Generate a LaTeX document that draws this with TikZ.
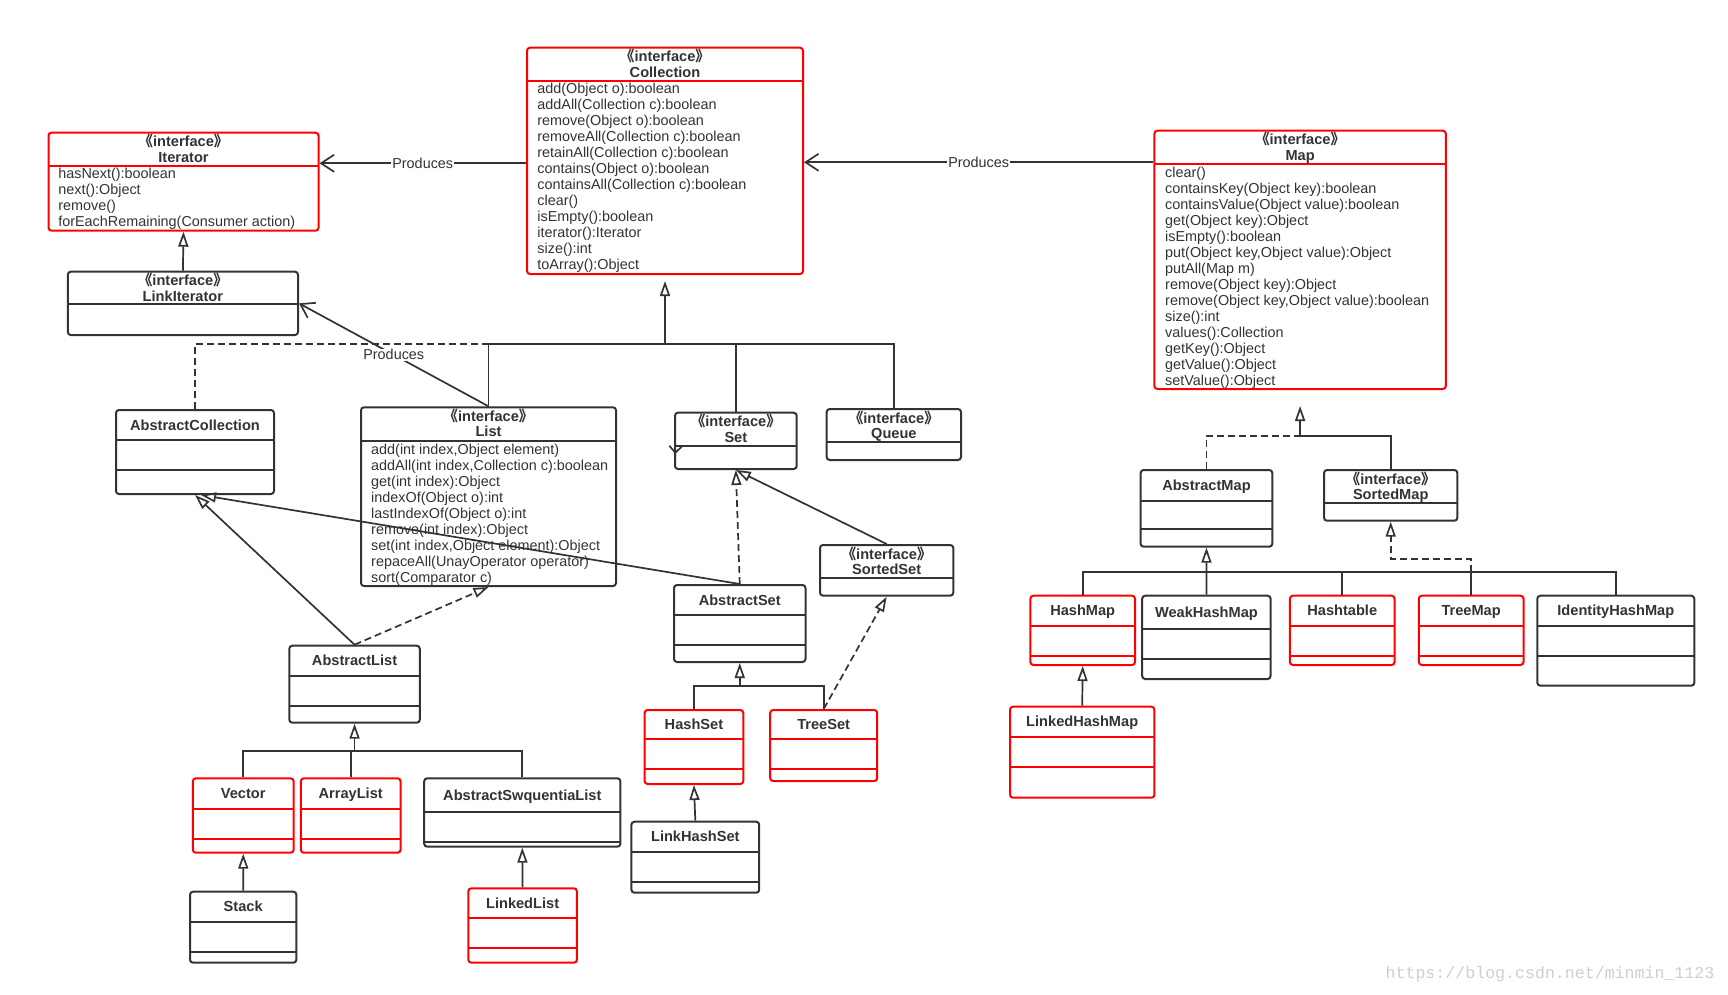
\documentclass[tikz,border=0pt]{standalone}
\usepackage{fontspec}
\setmainfont{Liberation Sans}
\newfontfamily\cjk{Noto Sans CJK SC}
\newfontfamily\wmfont{Liberation Mono}
\usetikzlibrary{fit,arrows.meta}
\definecolor{dk}{HTML}{333333}
\definecolor{wm}{HTML}{D0D0C8}
\newcommand\ifc{\makebox[0.62em][r]{\cjk 《}interface\makebox[0.62em][l]{\cjk 》}}

\begin{document}
\begin{tikzpicture}[x=0.5pt,y=-0.5pt,
    cls/.style={draw=#1,line width=1pt,rounded corners=1.5pt,inner sep=0pt},
    ttl/.style={anchor=base,inner sep=0pt,text=dk,font=\bfseries\fontsize{7.3}{8}\selectfont},
    meth/.style={anchor=base west,inner sep=0pt,text=dk,font=\fontsize{7.2}{8}\selectfont},
    conn/.style={draw=dk,line width=0.85pt},
    dsh/.style={conn,dash pattern=on 3.5pt off 2pt},
    gen/.style={conn,-{Triangle[open,length=7.5pt,width=5pt]}},
    realize/.style={dsh,-{Triangle[open,length=7.5pt,width=5pt]}},
    prod/.style={conn,-{Straight Barb[length=6.5pt,width=8.5pt]}},
    lbl/.style={fill=white,inner sep=0.5pt,text=dk,font=\fontsize{7.2}{8}\selectfont}]
\fill[white] (0,0) rectangle (1728,995);
\useasboundingbox (0,0) rectangle (1728,995);

\foreach \n/\xa/\ya/\xb/\yb/\sa/\sb/\nm/\col in {
    abscoll/116/410/274/494/440/470/AbstractCollection/dk,
    abslist/289.3/645.7/419.8/722.7/675.7/705.7/AbstractList/dk,
    vector/192.8/778.3/293.7/852.7/809/839/Vector/red,
    arraylist/300.8/778.3/400.6/852.7/809/839/ArrayList/red,
    absseq/424.2/778.3/620.4/846.7/811.7/841.7/AbstractSwquentiaList/dk,
    stack/190/891.7/296.4/962.7/921.7/951.7/Stack/dk,
    linkedlist/468.3/888.3/576.9/962.7/918.3/948.3/LinkedList/red,
    absset/674/585/805.5/662/615/645/AbstractSet/dk,
    hashset/644.6/710/743.3/784/739.3/769.3/HashSet/red,
    treeset/770.2/710/877.2/781/739.3/769.3/TreeSet/red,
    linkhashset/631.4/821.7/759.2/892.7/851.7/881.7/LinkHashSet/dk,
    absmap/1140.6/470/1272.3/546.7/501.4/529.3/AbstractMap/dk,
    hashmap/1030.4/595.7/1135/665/626/655.7/HashMap/red,
    weakhashmap/1142.2/595.7/1270.6/679/629/659/WeakHashMap/dk,
    hashtable/1289.9/595.7/1394.6/665/626/655.7/Hashtable/red,
    treemap/1418.8/595.7/1523.5/665/626/655.7/TreeMap/red,
    idhashmap/1537.3/595.7/1694.3/685.7/626/655.7/IdentityHashMap/dk,
    linkedhashmap/1010/706.7/1154.4/797.7/737/766.7/LinkedHashMap/red}{
  \node[cls=\col,fit={(\xa,\ya) (\xb,\yb)}] (\n) {};
  \draw[\col,line width=1pt] (\xa,\sa) -- (\xb,\sa) (\xa,\sb) -- (\xb,\sb);
  \node[ttl] at ({(\xa+\xb)/2},{(\ya+\sa)/2+5}) {\nm};
}

\foreach \n/\xa/\ya/\xb/\yb/\sa/\nm/\col in {
    collection/527/47.7/803/274/80.7/Collection/red,
    iterator/48.5/132.7/318.5/230.7/165.7/Iterator/red,
    linkiterator/67.8/271.7/298/335/304.3/LinkIterator/dk,
    map/1154.4/130.7/1445.8/389/164/Map/red,
    list/361/407.3/616/586/440.7/List/dk,
    set/675/412.7/796.7/469/445.7/Set/dk,
    queue/826.7/409/961/460/441.7/Queue/dk,
    sortedset/820/545/953.3/595.7/578.3/SortedSet/dk,
    sortedmap/1324/470/1457.4/520.7/502.7/SortedMap/dk}{
  \node[cls=\col,fit={(\xa,\ya) (\xb,\yb)}] (\n) {};
  \draw[\col,line width=1pt] (\xa,\sa) -- (\xb,\sa);
  \node[ttl] at ({(\xa+\xb)/2},\ya+14) {\ifc};
  \node[ttl] at ({(\xa+\xb)/2},\ya+29.5) {\nm};
}

\foreach \m [count=\i] in {add(Object o):boolean, addAll(Collection c):boolean,
    remove(Object o):boolean, removeAll(Collection c):boolean,
    retainAll(Collection c):boolean, contains(Object o):boolean,
    containsAll(Collection c):boolean, clear(), isEmpty():boolean,
    iterator():Iterator, size():int, toArray():Object}
  \node[meth] at (537,{93.8+16*(\i-1)}) {\m};
\foreach \m [count=\i] in {hasNext():boolean, next():Object, remove(),
    forEachRemaining(Consumer action)}
  \node[meth] at (57.9,{178.8+16*(\i-1)}) {\m};
\foreach \m [count=\i] in {clear(), containsKey(Object key):boolean,
    containsValue(Object value):boolean, get(Object key):Object,
    isEmpty():boolean, {put(Object key,Object value):Object}, putAll(Map m),
    remove(Object key):Object, {remove(Object key,Object value):boolean},
    size():int, values():Collection, getKey():Object, getValue():Object,
    setValue():Object}
  \node[meth] at (1164.8,{177.2+16*(\i-1)}) {\m};
\foreach \m [count=\i] in {{add(int index,Object element)},
    {addAll(int index,Collection c):boolean}, get(int index):Object,
    indexOf(Object o):int, lastIndexOf(Object o):int, remove(int index):Object,
    {set(int index,Object element):Object}, repaceAll(UnayOperator operator),
    sort(Comparator c)}
  \node[meth] at (370.8,{454.2+16*(\i-1)}) {\m};

\draw[prod] (collection.west |- 0,163.3) -- node[lbl] {Produces} (iterator.east |- 0,163.3);
\draw[prod] (map.west |- 0,162.3) -- node[lbl] {Produces} (collection.east |- 0,162.3);
\draw[prod] (list.north) -- node[lbl] {Produces} (linkiterator.east);
\draw[gen] (linkiterator.north) -- (iterator.south);

\coordinate (colljoin) at (collection.south |- 0,344);
\draw[dsh] (abscoll.north) |- (colljoin);
\draw[conn] (list.north) |- (colljoin) -| (set.north) (colljoin) -| (queue.north);
\draw[gen,shorten >=3pt] (colljoin) -- (collection.south);

\draw[gen] (abslist.north) -- (abscoll.south);
\draw[gen] (absset.north) -- ([xshift=3pt]abscoll.south);
\draw[realize] (abslist.north) -- (list.south);

\coordinate (aljoin) at (abslist.south |- 0,750.7);
\draw[conn] (vector.north) |- (aljoin) -| (absseq.north)
    (arraylist.north) -- (arraylist.north |- aljoin);
\draw[gen] (aljoin) -- (abslist.south);
\draw[gen] (stack.north) -- (vector.south);
\draw[gen] (linkedlist.north) -- (absseq.south);

\draw[realize] (absset.north) -- (set.south);
\draw[gen] (sortedset.north) -- (set.south);
\draw[conn] (669.3,445.7) -- (675.3,452.7) -- (681.7,446.7)
    (675.3,452.7) -- (675.3,457.3);
\coordinate (asjoin) at (absset.south |- 0,685.7);
\draw[conn] (hashset.north) |- (asjoin) -| (treeset.north);
\draw[gen] (asjoin) -- (absset.south);
\draw[realize] (treeset.north) -- (sortedset.south);
\draw[gen] (linkhashset.north) -- (hashset.south);

\coordinate (mapjoin) at (map.south |- 0,436);
\draw[dsh] (absmap.north) |- (mapjoin);
\draw[conn] (sortedmap.north) |- (mapjoin);
\draw[gen,shorten >=8pt] (mapjoin) -- (map.south);

\coordinate (amjoin) at (absmap.south |- 0,571.7);
\draw[conn] (hashmap.north) |- (idhashmap.north |- amjoin) -- (idhashmap.north)
    (hashtable.north) -- (hashtable.north |- amjoin)
    (treemap.north) -- (treemap.north |- amjoin);
\draw[gen] (weakhashmap.north) -- (absmap.south);
\draw[realize] (treemap.north |- amjoin) -- (treemap.north |- 0,559) -| (sortedmap.south);
\draw[gen] (linkedhashmap.north) -- (hashmap.south);

\node[text=wm,font=\wmfont\fontsize{8.3}{10}\selectfont,anchor=base] (wmark)
    at (1550,978) {https://blog.csdn.net/minmin\_1123};
\end{tikzpicture}
\end{document}
